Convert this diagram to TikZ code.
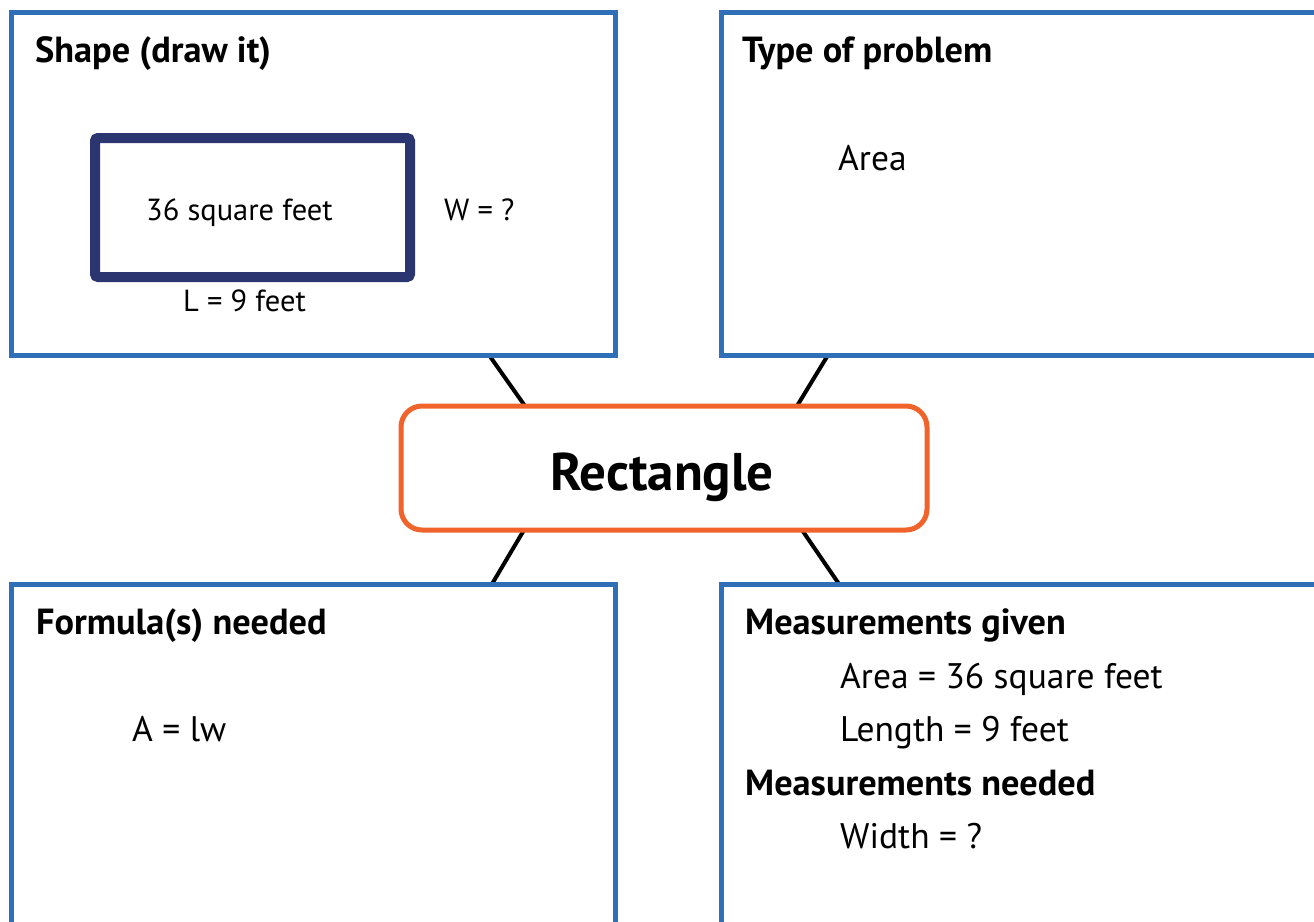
\documentclass[tikz,border=0pt]{standalone}
\usepackage{fontspec}
\setmainfont{PT Sans}
\usetikzlibrary{backgrounds}
\definecolor{boxblue}{HTML}{2F6FB7}
\definecolor{ctrorange}{HTML}{F0632A}
\definecolor{navy}{HTML}{2B3570}
\tikzset{
  panel/.style={draw=boxblue, line width=5pt, fill=white, inner sep=0pt, outer sep=0pt},
  ctrbox/.style={draw=ctrorange, line width=5pt, fill=white, rounded corners=21pt, inner sep=0pt, outer sep=0pt},
  shapebox/.style={draw=navy, line width=10pt, rounded corners=3pt, inner sep=0pt, outer sep=0pt},
  link/.style={draw=black, line width=4pt},
  headtxt/.style={anchor=base west, inner sep=0pt, font=\fontsize{36.3}{44}\selectfont\bfseries},
  bodytxt/.style={anchor=base west, inner sep=0pt, font=\fontsize{35.5}{43}\selectfont},
  smalltxt/.style={anchor=base west, inner sep=0pt, font=\fontsize{30.5}{37}\selectfont},
  bigtxt/.style={anchor=base, inner sep=0pt, font=\fontsize{53}{64}\selectfont\bfseries}
}
\begin{document}
\begin{tikzpicture}[x=1pt,y=-1pt]
\clip (0,0) rectangle (1314,921);
\node[panel, minimum width=604pt, minimum height=343pt] (tl) at (313,183.5) {};
\node[panel, minimum width=640pt, minimum height=343pt] (tr) at (1041,183.5) {};
\node[panel, minimum width=604pt, minimum height=380pt] (bl) at (313,774) {};
\node[panel, minimum width=640pt, minimum height=380pt] (br) at (1041,774) {};
\node[ctrbox, minimum width=526pt, minimum height=124pt] (ctr) at (664,468) {};
\begin{scope}[on background layer]
\fill[white] (0,0) rectangle (1314,921);
\draw[link] ([xshift=478pt]tl.south west) -- ([xshift=124pt]ctr.north west);
\draw[link] ([xshift=107pt]tr.south west) -- ([xshift=-130pt]ctr.north east);
\draw[link] ([xshift=123pt]ctr.south west) -- ([xshift=481pt]bl.north west);
\draw[link] ([xshift=-125pt]ctr.south east) -- ([xshift=118pt]br.north west);
\end{scope}
\node[shapebox, minimum width=315pt, minimum height=139pt] (rect) at (252.5,207.5) {};
\node[bigtxt] (title) at (662,490) {Rectangle};
\node[headtxt] (h1) at (35,62) {Shape (draw it)};
\node[smalltxt] (s1) at (146,220) {36 square feet};
\node[smalltxt] (s2) at (444,220) {W = ?};
\node[smalltxt] (s3) at (183,311) {L = 9 feet};
\node[headtxt] (h2) at (742,62) {Type of problem};
\node[bodytxt] (b1) at (838,170) {Area};
\node[headtxt] (h3) at (36,634) {Formula(s) needed};
\node[bodytxt] (b2) at (132,741) {A = lw};
\node[headtxt] (h4) at (745,634) {Measurements given};
\node[bodytxt] (b3) at (840,688) {Area = 36 square feet};
\node[bodytxt] (b4) at (840,741) {Length = 9 feet};
\node[headtxt] (h5) at (745,795) {Measurements needed};
\node[bodytxt] (b5) at (840,848) {Width = ?};
\end{tikzpicture}
\end{document}
